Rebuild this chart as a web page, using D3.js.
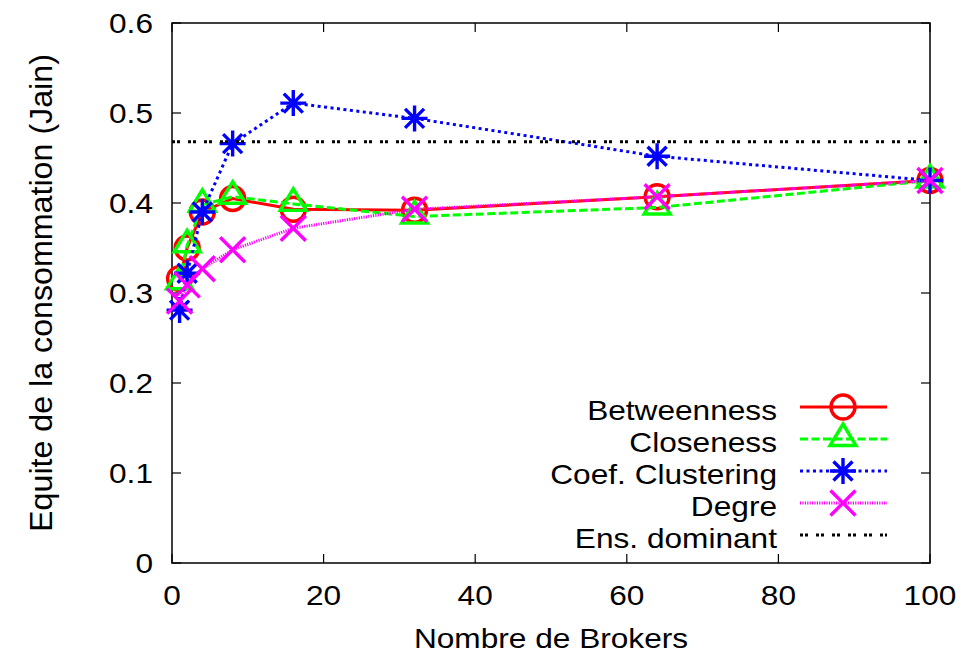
<!DOCTYPE html>
<html>
<head>
<meta charset="utf-8">
<script src="https://cdn.jsdelivr.net/npm/d3@7"></script>
<style>
  body { margin: 0; background: #fff; }
  text { font-family: "Liberation Sans", Arial, sans-serif; fill: #000; }
</style>
</head>
<body>
<div id="chart"></div>
<script>
const brokers = [1, 2, 4, 8, 16, 32, 64, 100];
const betweenness = [0.316, 0.350, 0.390, 0.405, 0.393, 0.392, 0.407, 0.425];
const closeness = [0.312, 0.353, 0.398, 0.407, 0.399, 0.385, 0.395, 0.425];
const clustering = [0.281, 0.322, 0.390, 0.466, 0.511, 0.494, 0.452, 0.425];
const degre = [0.291, 0.309, 0.327, 0.348, 0.372, 0.393, 0.407, 0.425];
const ensDominant = 0.468;
const xTicks = [0, 20, 40, 60, 80, 100];
const yTicks = [0, 0.1, 0.2, 0.3, 0.4, 0.5, 0.6];

const width = 972;
const height = 656;
const margin = { top: 23, right: 42, bottom: 93, left: 172 };
const sx = 1.13; // text is a bit wider than it is tall in the picture

const svg = d3.select('#chart')
  .append('svg')
  .attr('width', width)
  .attr('height', height);

const x = d3.scaleLinear()
  .domain([0, 100])
  .range([margin.left, width - margin.right]);

const y = d3.scaleLinear()
  .domain([0, 0.6])
  .range([height - margin.bottom, margin.top]);

// frame and ticks
svg.append('rect')
  .attr('x', x(0)).attr('y', y(0.6))
  .attr('width', x(100) - x(0)).attr('height', y(0) - y(0.6))
  .attr('fill', 'none').attr('stroke', '#000').attr('stroke-width', 1.5);

const tickLen = 9;
const ticks = svg.append('g').attr('stroke', '#000').attr('stroke-width', 1.2);
xTicks.forEach(t => {
  ticks.append('line').attr('x1', x(t)).attr('x2', x(t)).attr('y1', y(0)).attr('y2', y(0) - tickLen);
  ticks.append('line').attr('x1', x(t)).attr('x2', x(t)).attr('y1', y(0.6)).attr('y2', y(0.6) + tickLen);
});
yTicks.forEach(t => {
  ticks.append('line').attr('x1', x(0)).attr('x2', x(0) + tickLen).attr('y1', y(t)).attr('y2', y(t));
  ticks.append('line').attr('x1', x(100)).attr('x2', x(100) - tickLen).attr('y1', y(t)).attr('y2', y(t));
});

function label(g, tx, ty, str, anchor) {
  return g.append('text')
    .attr('transform', `translate(${tx},${ty}) scale(${sx},1)`)
    .attr('text-anchor', anchor)
    .attr('font-size', 28)
    .text(str);
}

const fmtY = d => d === 0 ? '0' : d3.format('.1f')(d);
xTicks.forEach(t => label(svg, x(t), y(0) + 42, String(t), 'middle'));
yTicks.forEach(t => label(svg, x(0) - 19, y(t) + 10, fmtY(t), 'end'));

label(svg, (x(0) + x(100)) / 2, height - 8, 'Nombre de Brokers', 'middle');

svg.append('text')
  .attr('transform', `translate(52,${(y(0) + y(0.6)) / 2}) rotate(-90) scale(1.15,1.1)`)
  .attr('text-anchor', 'middle')
  .attr('font-size', 28)
  .text('Equite de la consommation (Jain)');

// markers
const markers = {
  circle: g => g.append('circle').attr('r', 12).attr('fill', 'none'),
  triangle: g => g.append('path').attr('d', 'M0,-15L13,6.5L-13,6.5Z').attr('fill', 'none'),
  star: g => g.append('path').attr('d', 'M-13,0H13M0,-13V13M-9.5,-9.5L9.5,9.5M-9.5,9.5L9.5,-9.5'),
  cross: g => g.append('path').attr('d', 'M-12.5,-12.5L12.5,12.5M-12.5,12.5L12.5,-12.5')
};

const series = [
  { name: 'Betweenness', values: betweenness, color: '#ff0000', dash: null, marker: 'circle' },
  { name: 'Closeness', values: closeness, color: '#00ff00', dash: '8,3.5', marker: 'triangle' },
  { name: 'Coef. Clustering', values: clustering, color: '#0000ff', dash: '3,3.5', marker: 'star' },
  { name: 'Degre', values: degre, color: '#ff00ff', dash: '1.2,1.2', marker: 'cross' }
];

const line = d3.line()
  .x((d, i) => x(brokers[i]))
  .y(d => y(d));

series.forEach(s => {
  const g = svg.append('g');
  g.append('path')
    .attr('d', line(s.values))
    .attr('fill', 'none')
    .attr('stroke', s.color)
    .attr('stroke-width', 3)
    .attr('stroke-dasharray', s.dash);
  s.values.forEach((v, i) => {
    const m = g.append('g')
      .attr('transform', `translate(${x(brokers[i])},${y(v)})`)
      .attr('stroke', s.color)
      .attr('stroke-width', 3.4);
    markers[s.marker](m);
  });
});

svg.append('line')
  .attr('x1', x(0)).attr('x2', x(100))
  .attr('y1', y(ensDominant)).attr('y2', y(ensDominant))
  .attr('stroke', '#000').attr('stroke-width', 3)
  .attr('stroke-dasharray', '3,2,3,8');

// legend
const legend = svg.append('g');
const legendRows = series.concat([{ name: 'Ens. dominant', color: '#000', dash: '3,2,3,8', marker: null }]);
legendRows.forEach((s, i) => {
  const base = 420 + i * 32;
  label(legend, 777, base, s.name, 'end');
  legend.append('line')
    .attr('x1', 800).attr('x2', 887)
    .attr('y1', base - 13).attr('y2', base - 13)
    .attr('stroke', s.color).attr('stroke-width', 3)
    .attr('stroke-dasharray', s.dash);
  if (s.marker) {
    const m = legend.append('g')
      .attr('transform', `translate(843,${base - 13})`)
      .attr('stroke', s.color)
      .attr('stroke-width', 3.4);
    markers[s.marker](m);
  }
});
</script>
</body>
</html>
